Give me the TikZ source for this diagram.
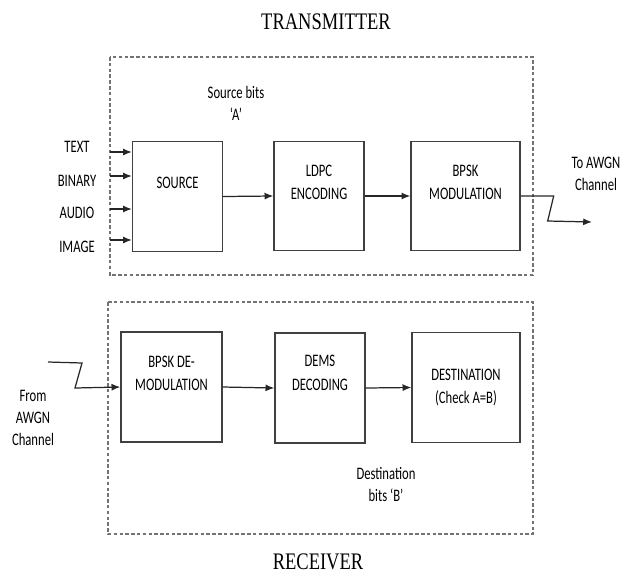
\documentclass[tikz,border=0pt]{standalone}
\usepackage{fontspec}
\setmainfont{Carlito}[FakeStretch=0.72]
\newfontfamily\titlefont{Liberation Serif}[FakeStretch=0.78]
\usetikzlibrary{arrows.meta}

\tikzset{
    block/.style={draw=black!75, line width=0.8pt, inner sep=0pt, align=center,
        font=\fontsize{10}{13.5}\selectfont},
    txt/.style={align=center, font=\fontsize{10}{12.5}\selectfont},
    title/.style={font=\titlefont\fontsize{13.5}{16}\selectfont},
    frame/.style={draw=black!55, line width=0.9pt, dash pattern=on 2pt off 1.3pt},
    arr/.style={-{Latex[length=5pt,width=4pt]}, line width=0.7pt, draw=black!85},
}

\begin{document}
\begin{tikzpicture}[x=0.02cm, y=-0.02cm]
    \useasboundingbox (0,0) rectangle (633,576);
    %\draw[lightgray] (0,0) grid[step=50] (633,576);

    % titles and frames
    \node[title] (tx) at (326,22) {TRANSMITTER};
    \node[title] (rx) at (318,562) {RECEIVER};
    \draw[frame] (110,57) rectangle (533,275);
    \draw[frame] (108,302) rectangle (533,534);

    % transmitter
    \node[block, minimum width=1.8cm, minimum height=2.2cm] (src) at (177.5,196.5) {SOURCE\\[2pt]};
    \node[block, minimum width=1.8cm, minimum height=2.18cm] (ldpc) at (319,196) {LDPC\\ENCODING\\[2pt]};
    \node[block, minimum width=2.18cm, minimum height=2.18cm] (bpsk) at (465.5,196) {BPSK\\MODULATION\\[2pt]};
    \node[txt] (srcbits) at (236,103) {Source bits\\`A'};

    \node[txt] (itext) at (77,147) {TEXT};
    \node[txt] (ibin) at (77,181) {BINARY};
    \node[txt] (iaud) at (77,213) {AUDIO};
    \node[txt] (iimg) at (77,247) {IMAGE};
    \coordinate (c1) at (110,152);
    \coordinate (c2) at (110,176);
    \coordinate (c3) at (110,209);
    \coordinate (c4) at (110,240);
    \foreach \c in {c1,c2,c3,c4}
        \draw[arr] (\c) -- (\c -| src.west);

    \draw[arr] (src.east) -- (ldpc.west);
    \draw[arr] (ldpc.east) -- (bpsk.west);
    \coordinate (out) at (592,222);
    \draw[arr] (bpsk.east) -- ++(33,0) -- ++(-6,25) -- (out);
    \node[txt] (toawgn) at (596,174) {To AWGN\\Channel};

    % receiver
    \node[block, minimum width=2.02cm, minimum height=2.2cm] (demod) at (171.5,387) {BPSK DE-\\MODULATION\\[2pt]};
    \node[block, minimum width=1.8cm, minimum height=2.2cm] (dems) at (320,388) {DEMS\\DECODING\\[4pt]};
    \node[block, minimum width=2.16cm, minimum height=2.2cm] (dest) at (466,387.5) {DESTINATION\\(Check A=B)};
    \node[txt] (dstbits) at (386,484) {Destination\\bits `B'};

    \coordinate (rin) at (48,362);
    \draw[arr] (rin) -- ++(34,1) -- ++(-7,25) -- (demod.west);
    \node[txt] (fromawgn) at (33,418) {From\\AWGN\\Channel};

    \draw[arr] (demod.east) -- (dems.west);
    \draw[arr] (dems.east) -- (dest.west);
\end{tikzpicture}
\end{document}
